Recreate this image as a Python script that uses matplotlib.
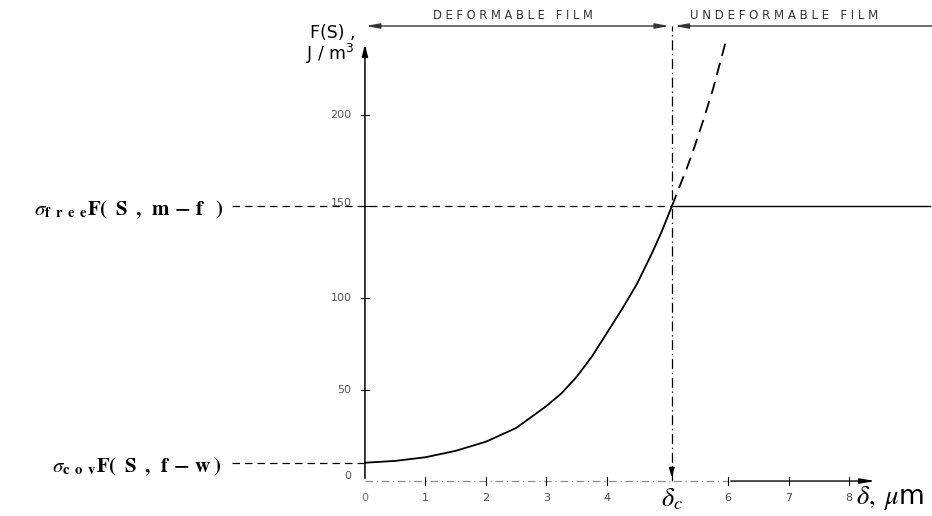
import numpy as np
import matplotlib
matplotlib.use("Agg")
import matplotlib.pyplot as plt

# Curve (delta in um, F in J/m^3)
delta_deform = [0, 0.5, 1, 1.5, 2, 2.5, 3, 3.25, 3.5, 3.75, 4, 4.25, 4.5, 4.75, 4.9, 5.07]
F_deform = [10, 11, 13, 16.5, 21.5, 29, 41, 48, 57, 68, 81, 94, 108, 125, 136, 150]

delta_undeform = [5.07, 5.2, 5.32, 5.45, 5.59, 5.75, 5.97]
F_undeform = [150, 161, 171, 183, 197, 214, 241]

F_cov = 10       # sigma_cov F(s, f-w)
F_free = 150     # sigma_free F(s, m-f)
delta_c = 5.07

x_ticks = [1, 2, 3, 4, 6, 7, 8]
x_tick_labels = ["1", "2", "3", "4", "6", "7", "8"]
y_ticks = [50, 100, 150, 200]
y_tick_labels = ["50", "100", "150", "200"]

plt.rcParams["mathtext.fontset"] = "stix"

fig = plt.figure(figsize=(9.32, 5.16), dpi=100)
ax = fig.add_axes([0, 0, 1, 1])
ax.set_xlim(-6.03, 9.37)
ax.set_ylim(-19.1, 262.8)
ax.axis("off")

top = 248.6   # level of the region arrows
x_end = 9.34

# axes with arrows
ax.annotate("", xy=(0, 240), xytext=(0, 0),
            arrowprops=dict(arrowstyle="-|>,head_length=0.7,head_width=0.18", color="black", lw=1.1))
ax.plot([0, 6], [0, 0], color="0.55", lw=0.9, ls=(0, (6, 3, 1, 3)))
ax.annotate("", xy=(8.48, 0), xytext=(6, 0),
            arrowprops=dict(arrowstyle="-|>,head_length=0.9,head_width=0.15", color="black", lw=1.0))

for t, lab in zip(x_ticks, x_tick_labels):
    ax.plot([t, t], [-2, 2], color="black", lw=0.8)
    ax.text(t, -9, lab, ha="center", va="center", fontsize=8, color="0.3")
for t, lab in zip(y_ticks, y_tick_labels):
    ax.plot([-0.06, 0.06], [t, t], color="black", lw=0.8)
    ax.text(-0.22, t + (2 if t == 150 else 0), lab, ha="right", va="center", fontsize=8, color="0.35")
ax.text(-0.28, 2.5, "0", ha="center", va="center", fontsize=8, color="0.35")
ax.text(0, -9.5, "0", ha="center", va="center", fontsize=8, color="0.45")

# curves
ax.plot(delta_deform, F_deform, color="black", lw=1.3)
ax.plot(delta_undeform, F_undeform, color="black", lw=1.3, ls=(0, (7, 4)))

# reference levels
ax.plot([-2.2, delta_c], [F_free, F_free], color="black", lw=0.9, ls=(0, (6, 4)))
ax.plot([delta_c, x_end], [F_free, F_free], color="black", lw=1.0)
ax.plot([-2.2, 0], [F_cov, F_cov], color="black", lw=0.9, ls=(0, (6, 4)))

ax.text(-2.33, F_free - 2,
        r"$\sigma_{\mathbf{f\;\;r\;\;e\;\;e}}\mathbf{F(\;\;S\;\;,\;\;m\,-\,f\;\;\;)}$",
        ha="right", va="center", fontsize=15)
ax.text(-2.36, F_cov - 2,
        r"$\sigma_{\mathbf{c\;\;o\;\;v}}\mathbf{F(\;\;S\;\;,\;\;f\,-\,w\;)}$",
        ha="right", va="center", fontsize=15)

# critical thickness line
ax.plot([delta_c, delta_c], [0, top], color="black", lw=0.9, ls=(0, (8, 3, 1, 3)))
ax.annotate("", xy=(delta_c, 0.5), xytext=(delta_c, 6),
            arrowprops=dict(arrowstyle="-|>,head_length=0.5,head_width=0.15", color="black", lw=1.2))
ax.text(delta_c, -10, r"$\delta_c$", ha="center", va="center", fontsize=19)
ax.text(8.12, -9.5, r"$\delta,\ \mu$m", ha="left", va="center", fontsize=19)

# region arrows along the top
ax.annotate("", xy=(-0.03, top), xytext=(delta_c, top),
            arrowprops=dict(arrowstyle="<|-|>,head_length=0.8,head_width=0.15", color="0.2", lw=1.0))
ax.annotate("", xy=(delta_c, top), xytext=(x_end + 0.1, top),
            arrowprops=dict(arrowstyle="-|>,head_length=0.8,head_width=0.15", color="0.2", lw=1.0))
ax.text(2.45, 254.5, "D E F O R M A B L E   F I L M", ha="center", va="center", fontsize=8.3, color="0.2")
ax.text(5.37, 254.5, "U N D E F O R M A B L E   F I L M", ha="left", va="center", fontsize=8.5, color="0.2")

# y-axis label
ax.text(-0.16, 238, "F(S) ,\nJ / m$^3$", ha="right", va="center", fontsize=12.5,
        linespacing=1.0, math_fontfamily="dejavusans")

fig.savefig("out.png", dpi=100)
